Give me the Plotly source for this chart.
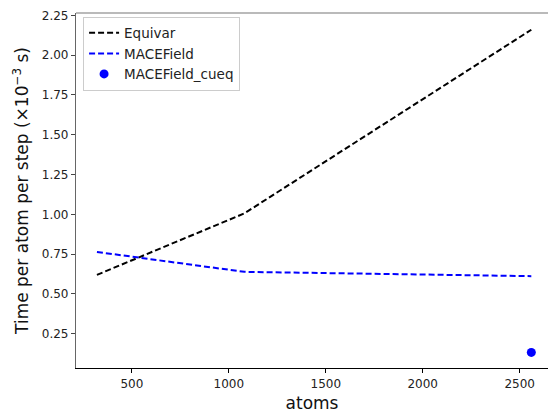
import plotly.graph_objects as go

atoms = [320, 1080, 2560]
equivar = [0.62, 1.006, 2.16]
macefield = [0.764, 0.639, 0.612]
cueq_atoms = [2560]
cueq = [0.133]

font = "DejaVu Sans"

fig = go.Figure()
fig.add_trace(go.Scatter(x=atoms, y=equivar, mode="lines", name="Equivar",
                         line=dict(color="black", width=2, dash="6px,3px")))
fig.add_trace(go.Scatter(x=atoms, y=macefield, mode="lines", name="MACEField",
                         line=dict(color="blue", width=2, dash="6px,3px")))
fig.add_trace(go.Scatter(x=cueq_atoms, y=cueq, mode="markers", name="MACEField_cueq",
                         marker=dict(color="blue", size=9)))

fig.update_layout(
    width=548, height=413,
    margin=dict(l=76, r=0, t=13, b=45),
    paper_bgcolor="white", plot_bgcolor="white",
    font=dict(family=font, size=12, color="#222"),
    showlegend=True,
    legend=dict(x=0.015, y=0.99, xanchor="left", yanchor="top",
                bgcolor="rgba(255,255,255,0.9)", bordercolor="#ccc", borderwidth=1,
                font=dict(size=13.5, color="#222"), itemwidth=30, tracegroupgap=2),
    xaxis=dict(range=[212, 2646], tickvals=[500, 1000, 1500, 2000, 2500],
               showgrid=False, zeroline=False, showline=True, linecolor="black", linewidth=1.2,
               ticks="outside", ticklen=4, tickcolor="black",
               title=dict(text="atoms", font=dict(size=17, color="#111"), standoff=7)),
    yaxis=dict(range=[0.035, 2.265], tickvals=[0.25, 0.5, 0.75, 1.0, 1.25, 1.5, 1.75, 2.0, 2.25],
               tickformat=".2f",
               showgrid=False, zeroline=False, showline=True, linecolor="#666", linewidth=1.2,
               ticks="outside", ticklen=4, tickcolor="#444",
               title=dict(text="Time per atom per step (×10<sup>−3</sup> s)", font=dict(size=17, color="#111"), standoff=8)),
    shapes=[dict(type="line", xref="paper", yref="paper", x0=0, x1=1, y0=1, y1=1,
                 line=dict(color="#777", width=1.2))],
)

fig.write_html("out.html")
